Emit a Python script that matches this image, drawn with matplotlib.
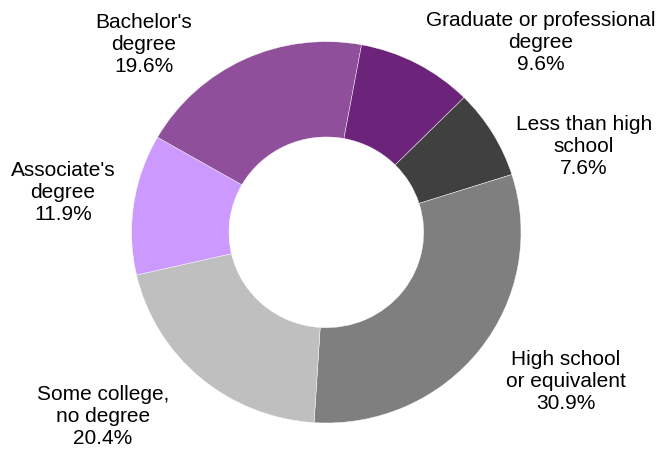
import matplotlib
matplotlib.use("Agg")
import matplotlib.pyplot as plt

plt.rcParams['font.family'] = ['Liberation Sans', 'DejaVu Sans']

categories = ["Less than high\nschool", "High school\nor equivalent", "Some college,\nno degree",
              "Associate's\ndegree", "Bachelor's\ndegree", "Graduate or professional\ndegree"]
values = [7.6, 30.9, 20.4, 11.9, 19.6, 9.6]
colors = ["#404040", "#7f7f7f", "#bfbfbf", "#cc99ff", "#8f4f9b", "#6b2479"]

# label positions (figure pixels, from top-left)
label_px = [(584, 147), (566, 382), (103, 417), (63, 193), (144, 45), (541, 43)]

W, H = 660, 452
fig = plt.figure(figsize=(W / 100, H / 100), dpi=100)
ax = fig.add_axes([0, 0, 1, 1])

cx, cy = 326.3, 233.3
rx, ry = 194.7, 190.7

ax.pie(values, colors=colors, startangle=45, counterclock=False,
       radius=1.0, wedgeprops=dict(width=0.5, edgecolor="white", linewidth=0.3))
ax.set_aspect('auto')
ax.set_xlim(-cx / rx, (W - cx) / rx)
ax.set_ylim(-(H - cy) / ry, cy / ry)
ax.axis('off')

for cat, v, (px, py) in zip(categories, values, label_px):
    fig.text(px / W, 1 - py / H, f"{cat}\n{v:.1f}%", ha="center", va="center",
             multialignment="center", fontsize=15, color="black")

fig.savefig("out.png", dpi=100)
